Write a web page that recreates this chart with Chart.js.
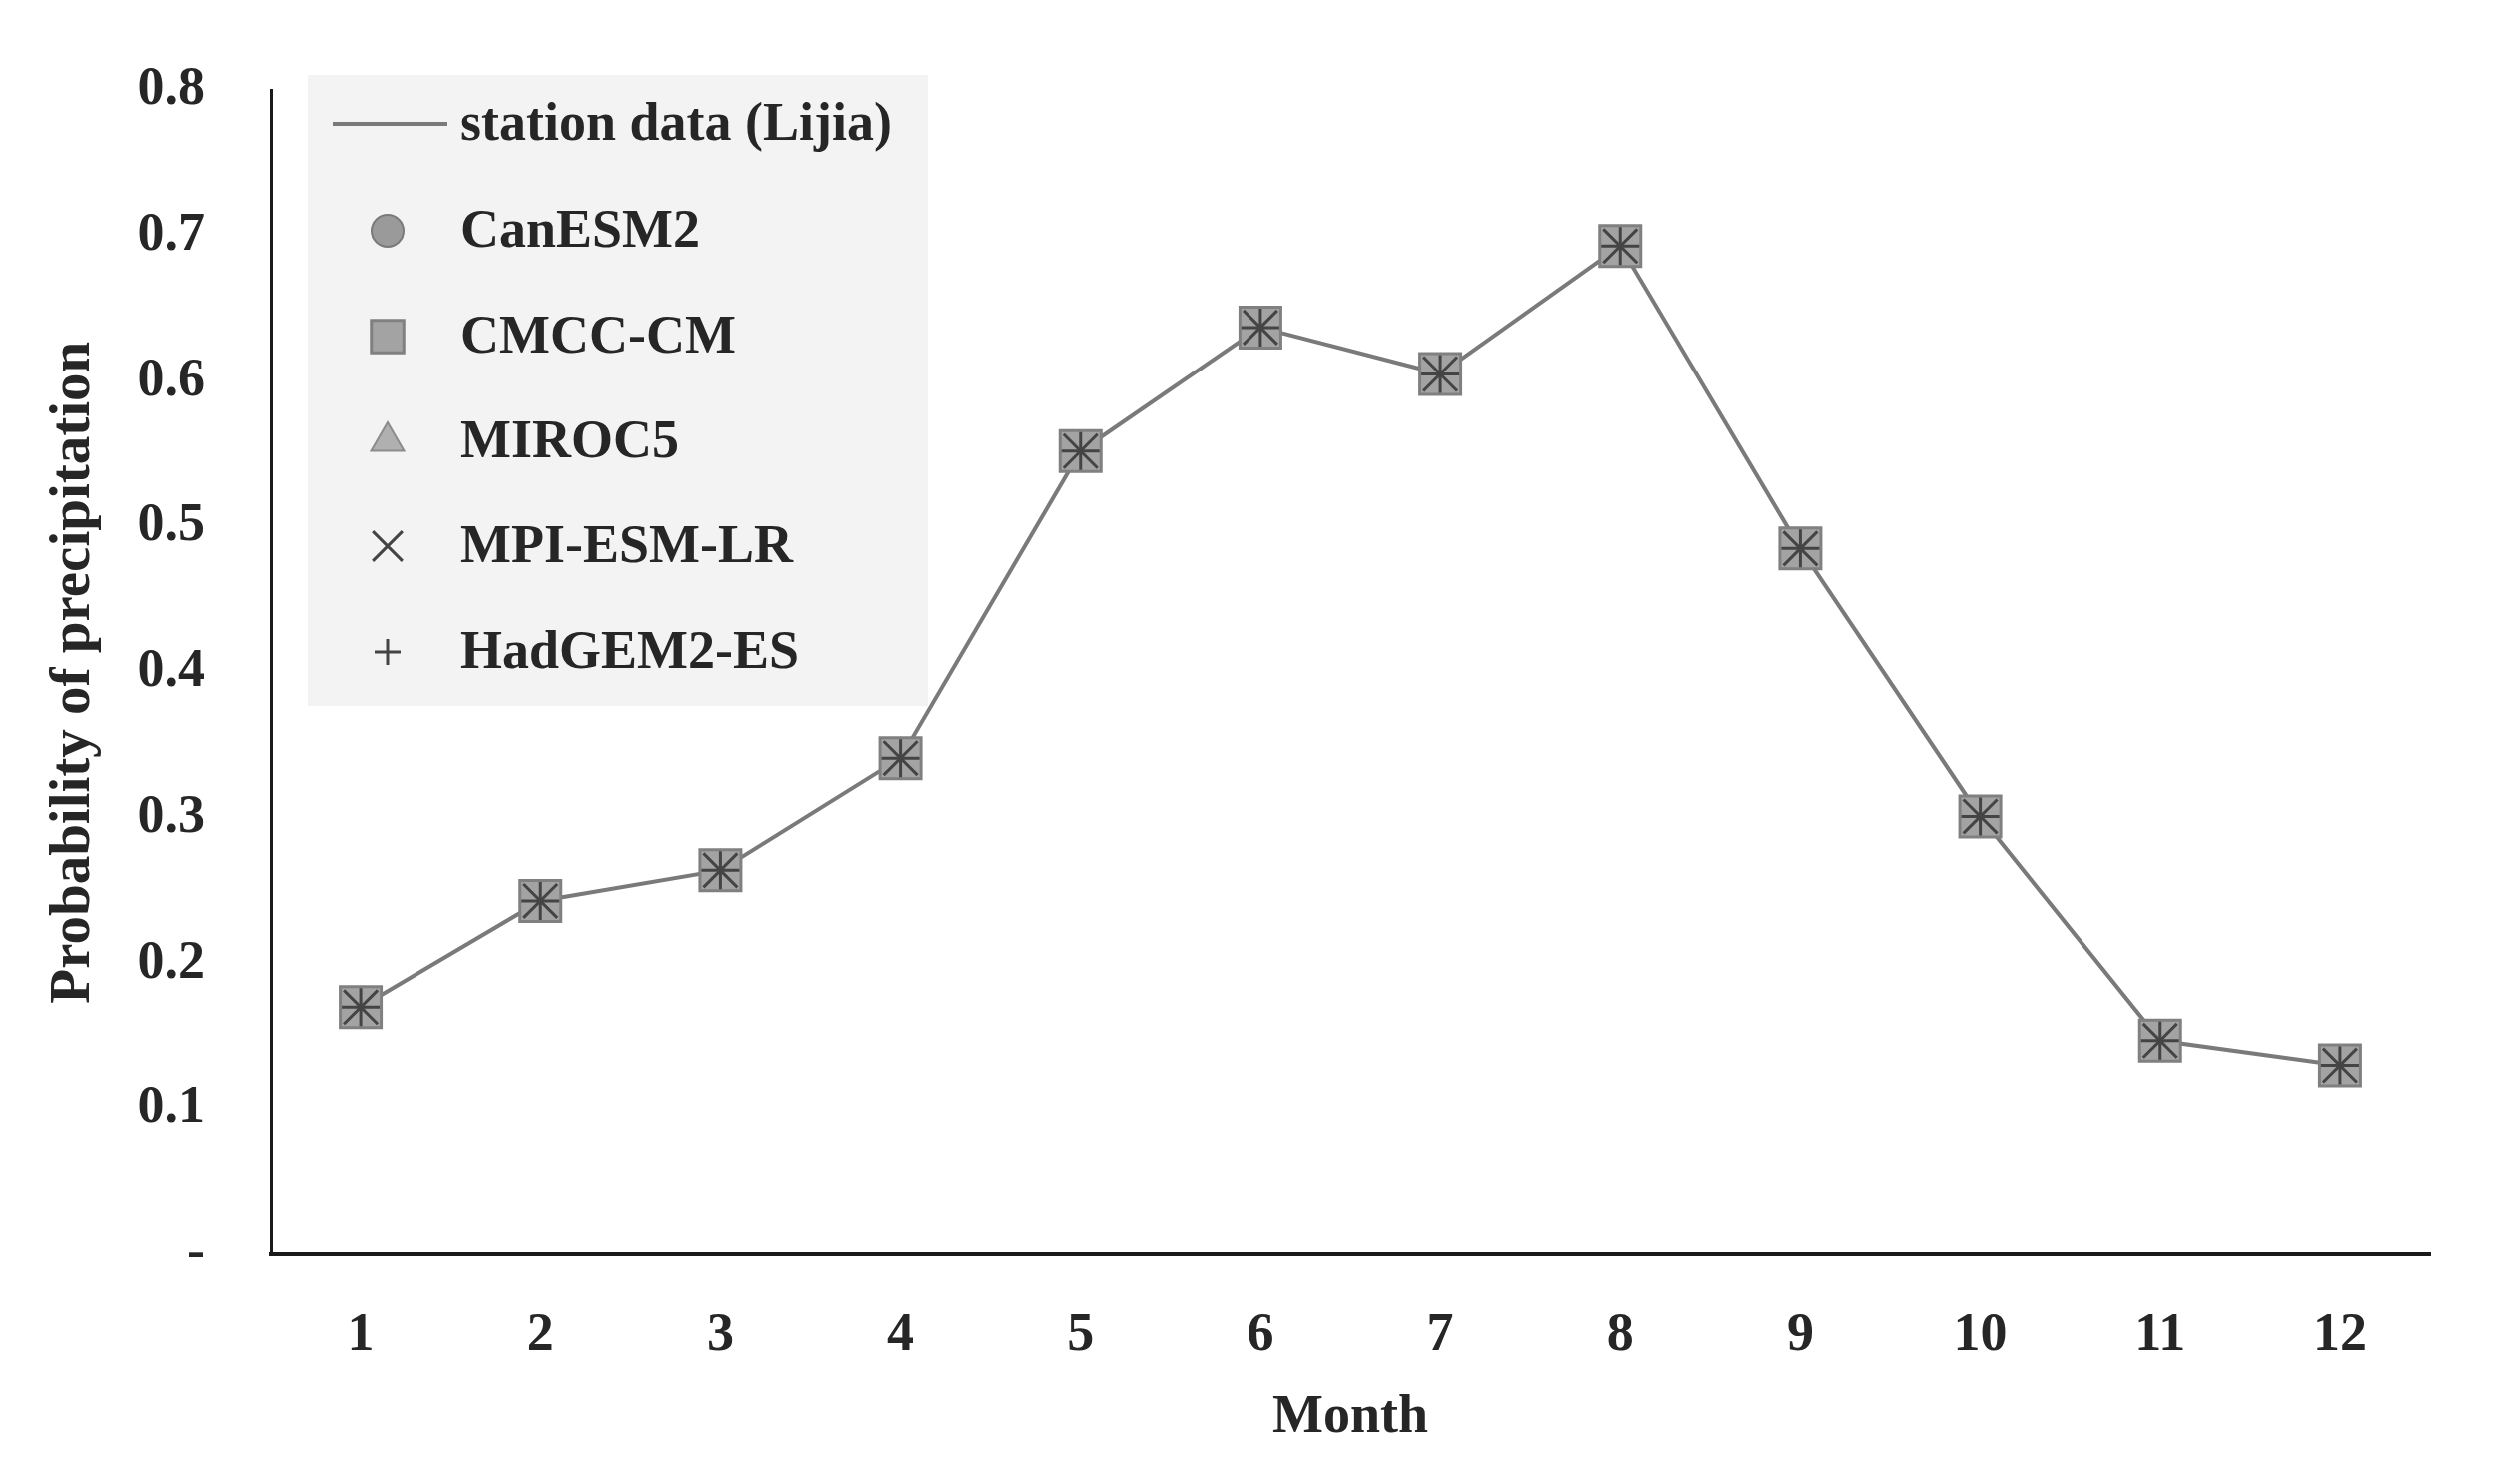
<!DOCTYPE html>
<html>
<head>
<meta charset="utf-8">
<script src="https://cdn.jsdelivr.net/npm/chart.js@4/dist/chart.umd.min.js"></script>
<style>
  html, body { margin: 0; padding: 0; background: #fff; }
  #wrap { width: 2502px; height: 1486px; }
</style>
</head>
<body>
<div id="wrap"><canvas id="chart" width="2502" height="1486"></canvas></div>
<script>
// Data
const months = ['1', '2', '3', '4', '5', '6', '7', '8', '9', '10', '11', '12']
const stationLijia = [0.170, 0.243, 0.264, 0.341, 0.552, 0.637, 0.605, 0.693, 0.485, 0.301, 0.147, 0.130]
const canESM2     = [0.170, 0.243, 0.264, 0.341, 0.552, 0.637, 0.605, 0.693, 0.485, 0.301, 0.147, 0.130]
const cmccCM      = [0.170, 0.243, 0.264, 0.341, 0.552, 0.637, 0.605, 0.693, 0.485, 0.301, 0.147, 0.130]
const miroc5      = [0.170, 0.243, 0.264, 0.341, 0.552, 0.637, 0.605, 0.693, 0.485, 0.301, 0.147, 0.130]
const mpiEsmLr    = [0.170, 0.243, 0.264, 0.341, 0.552, 0.637, 0.605, 0.693, 0.485, 0.301, 0.147, 0.130]
const hadGEM2ES   = [0.170, 0.243, 0.264, 0.341, 0.552, 0.637, 0.605, 0.693, 0.485, 0.301, 0.147, 0.130]
const yMin = 0
const yMax = 0.8
const yStep = 0.1

const FONT = "'Liberation Serif', 'DejaVu Serif', serif"
const TXT = '#262626'
const FS = 54

// Legend drawn inside the plot area (top-left), like the original
const insideLegend = {
  id: 'insideLegend',
  afterDatasetsDraw(chart) {
    const ctx = chart.ctx
    const box = { x: 308, y: 75, w: 621, h: 632 }
    const rowY = [124, 231, 337, 442, 547, 653]
    const markX = 388
    const textX = 461
    ctx.save()
    ctx.fillStyle = '#f3f3f3'
    ctx.fillRect(box.x, box.y, box.w, box.h)
    ctx.font = 'bold ' + FS + 'px ' + FONT
    ctx.textBaseline = 'middle'
    ctx.textAlign = 'left'
    const legendSizes = [0, 16, 23, 19, 21, 13]
    chart.data.datasets.forEach((ds, i) => {
      const y = rowY[i]
      if (ds.showLine !== false) {
        ctx.strokeStyle = ds.borderColor
        ctx.lineWidth = 4
        ctx.beginPath()
        ctx.moveTo(333, y)
        ctx.lineTo(448, y)
        ctx.stroke()
      } else {
        ctx.fillStyle = ds.pointBackgroundColor
        ctx.strokeStyle = ds.pointBorderColor
        ctx.lineWidth = ds.pointBorderWidth
        Chart.helpers.drawPoint(ctx, {
          pointStyle: ds.pointStyle,
          radius: legendSizes[i],
          rotation: 0,
          borderWidth: ds.pointBorderWidth
        }, markX, y)
      }
      ctx.fillStyle = TXT
      ctx.fillText(ds.label, textX, y + 2)
    })
    ctx.restore()
  }
}

const markerSet = (label, data, style, radius, fill, stroke, width, order) => ({
  label,
  data,
  showLine: false,
  pointStyle: style,
  pointRadius: radius,
  pointHoverRadius: radius,
  pointBackgroundColor: fill,
  pointBorderColor: stroke,
  pointBorderWidth: width,
  order
})

const ctx = document.getElementById('chart').getContext('2d')

new Chart(ctx, {
  type: 'line',
  data: {
    labels: months,
    datasets: [
      {
        label: 'station data (Lijia)',
        data: stationLijia,
        borderColor: '#7a7a7a',
        borderWidth: 4,
        pointRadius: 0,
        tension: 0,
        fill: false,
        order: 5
      },
      markerSet('CanESM2', canESM2, 'circle', 19, '#9a9a9a', '#7a7a7a', 2, 4),
      markerSet('CMCC-CM', cmccCM, 'rect', 29, '#a3a3a3', '#808080', 3, 2),
      markerSet('MIROC5', miroc5, 'triangle', 20, '#b0b0b0', '#8c8c8c', 2, 3),
      markerSet('MPI-ESM-LR', mpiEsmLr, 'crossRot', 24, '#444', '#444', 3, 1),
      markerSet('HadGEM2-ES', hadGEM2ES, 'cross', 19, '#444', '#444', 3, 0)
    ]
  },
  options: {
    responsive: false,
    animation: false,
    devicePixelRatio: 1,
    layout: {
      padding: { top: 78, right: 69, bottom: 0, left: 0 }
    },
    scales: {
      x: {
        offset: true,
        grid: { display: false },
        border: { display: true, color: '#1a1a1a', width: 4 },
        ticks: {
          color: TXT,
          padding: 42,
          maxRotation: 0,
          font: { family: FONT, size: FS, weight: 'bold' }
        },
        title: {
          display: true,
          text: 'Month',
          color: TXT,
          padding: { top: 0, bottom: 34 },
          font: { family: FONT, size: FS, weight: 'bold' }
        },
        afterFit(scale) { scale.height = 230 }
      },
      y: {
        min: yMin,
        max: yMax,
        grid: { display: false },
        border: { display: true, color: '#1a1a1a', width: 3 },
        ticks: {
          stepSize: yStep,
          color: TXT,
          padding: 58,
          font: { family: FONT, size: FS, weight: 'bold' },
          callback: (v) => (Math.abs(v) < 1e-9 ? '-' : Number(v).toFixed(1))
        },
        title: {
          display: true,
          text: 'Probability of precipitation',
          color: TXT,
          padding: { top: 40, bottom: 0 },
          font: { family: FONT, size: 57, weight: 'bold' }
        },
        afterFit(scale) { scale.width = 271 }
      }
    },
    plugins: {
      legend: { display: false },
      tooltip: { enabled: false }
    }
  },
  plugins: [insideLegend]
})
</script>
</body>
</html>
